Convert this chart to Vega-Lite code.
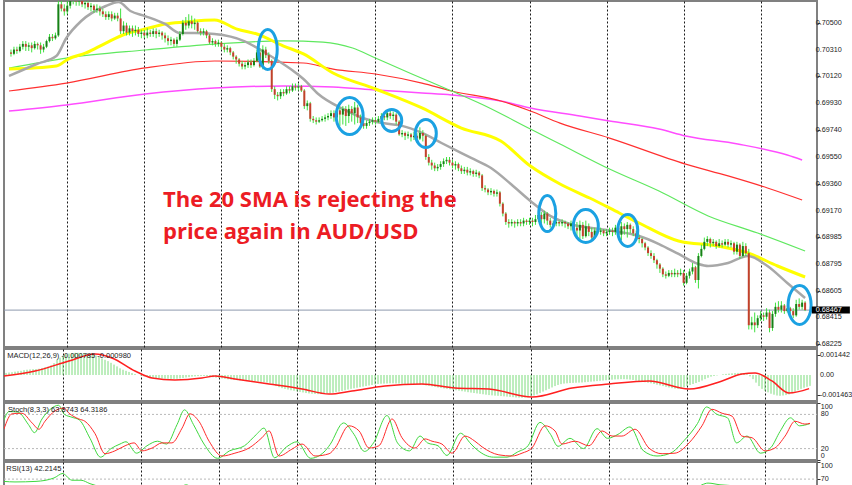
{
"$schema": "https://vega.github.io/schema/vega-lite/v6.json",
"background": "white",
"padding": {"left": 2, "top": 0, "right": 0, "bottom": 0},
"spacing": 2,
"bounds": "flush",
"config": {
  "view": {"stroke": "#808080", "strokeWidth": 2},
  "axis": {"tickColor": "#333"}
},
"datasets": {
"candles": [
{"t":0,"o":0.7029,"h":0.7031,"l":0.7026,"c":0.7028},
{"t":1,"o":0.7028,"h":0.7033,"l":0.7027,"c":0.7031},
{"t":2,"o":0.7031,"h":0.7033,"l":0.7028,"c":0.7030},
{"t":3,"o":0.7030,"h":0.7035,"l":0.7029,"c":0.7033},
{"t":4,"o":0.7033,"h":0.7037,"l":0.7031,"c":0.7035},
{"t":5,"o":0.7035,"h":0.7037,"l":0.7030,"c":0.7033},
{"t":6,"o":0.7033,"h":0.7036,"l":0.7030,"c":0.7034},
{"t":7,"o":0.7034,"h":0.7036,"l":0.7029,"c":0.7032},
{"t":8,"o":0.7032,"h":0.7037,"l":0.7031,"c":0.7035},
{"t":9,"o":0.7035,"h":0.7036,"l":0.7031,"c":0.7034},
{"t":10,"o":0.7034,"h":0.7036,"l":0.7028,"c":0.7031},
{"t":11,"o":0.7031,"h":0.7035,"l":0.7029,"c":0.7033},
{"t":12,"o":0.7033,"h":0.7038,"l":0.7032,"c":0.7037},
{"t":13,"o":0.7037,"h":0.7042,"l":0.7036,"c":0.7040},
{"t":14,"o":0.7040,"h":0.7042,"l":0.7037,"c":0.7039},
{"t":15,"o":0.7039,"h":0.7043,"l":0.7038,"c":0.7041},
{"t":16,"o":0.7041,"h":0.7068,"l":0.7040,"c":0.7063},
{"t":17,"o":0.7063,"h":0.7070,"l":0.7058,"c":0.7060},
{"t":18,"o":0.7060,"h":0.7063,"l":0.7055,"c":0.7058},
{"t":19,"o":0.7058,"h":0.7066,"l":0.7056,"c":0.7062},
{"t":20,"o":0.7062,"h":0.7070,"l":0.7060,"c":0.7066},
{"t":21,"o":0.7066,"h":0.7072,"l":0.7063,"c":0.7068},
{"t":22,"o":0.7068,"h":0.7071,"l":0.7062,"c":0.7065},
{"t":23,"o":0.7065,"h":0.7069,"l":0.7062,"c":0.7066},
{"t":24,"o":0.7066,"h":0.7068,"l":0.7061,"c":0.7063},
{"t":25,"o":0.7063,"h":0.7067,"l":0.7060,"c":0.7064},
{"t":26,"o":0.7064,"h":0.7066,"l":0.7059,"c":0.7061},
{"t":27,"o":0.7061,"h":0.7064,"l":0.7058,"c":0.7062},
{"t":28,"o":0.7062,"h":0.7063,"l":0.7057,"c":0.7059},
{"t":29,"o":0.7059,"h":0.7063,"l":0.7057,"c":0.7060},
{"t":30,"o":0.7060,"h":0.7062,"l":0.7055,"c":0.7058},
{"t":31,"o":0.7058,"h":0.7060,"l":0.7054,"c":0.7056},
{"t":32,"o":0.7056,"h":0.7058,"l":0.7052,"c":0.7054},
{"t":33,"o":0.7054,"h":0.7058,"l":0.7052,"c":0.7056},
{"t":34,"o":0.7056,"h":0.7058,"l":0.7051,"c":0.7053},
{"t":35,"o":0.7053,"h":0.7057,"l":0.7052,"c":0.7055},
{"t":36,"o":0.7055,"h":0.7057,"l":0.7051,"c":0.7053},
{"t":37,"o":0.7053,"h":0.7060,"l":0.7042,"c":0.7044},
{"t":38,"o":0.7044,"h":0.7051,"l":0.7042,"c":0.7048},
{"t":39,"o":0.7048,"h":0.7050,"l":0.7041,"c":0.7043},
{"t":40,"o":0.7043,"h":0.7048,"l":0.7041,"c":0.7046},
{"t":41,"o":0.7046,"h":0.7048,"l":0.7040,"c":0.7044},
{"t":42,"o":0.7044,"h":0.7048,"l":0.7041,"c":0.7045},
{"t":43,"o":0.7045,"h":0.7047,"l":0.7040,"c":0.7042},
{"t":44,"o":0.7042,"h":0.7045,"l":0.7039,"c":0.7043},
{"t":45,"o":0.7043,"h":0.7045,"l":0.7039,"c":0.7041},
{"t":46,"o":0.7041,"h":0.7046,"l":0.7039,"c":0.7043},
{"t":47,"o":0.7043,"h":0.7045,"l":0.7040,"c":0.7042},
{"t":48,"o":0.7042,"h":0.7046,"l":0.7040,"c":0.7044},
{"t":49,"o":0.7044,"h":0.7046,"l":0.7039,"c":0.7042},
{"t":50,"o":0.7042,"h":0.7045,"l":0.7040,"c":0.7043},
{"t":51,"o":0.7043,"h":0.7044,"l":0.7038,"c":0.7041},
{"t":52,"o":0.7041,"h":0.7043,"l":0.7036,"c":0.7039},
{"t":53,"o":0.7039,"h":0.7041,"l":0.7034,"c":0.7037},
{"t":54,"o":0.7037,"h":0.7040,"l":0.7034,"c":0.7038},
{"t":55,"o":0.7038,"h":0.7039,"l":0.7033,"c":0.7035},
{"t":56,"o":0.7035,"h":0.7040,"l":0.7033,"c":0.7038},
{"t":57,"o":0.7038,"h":0.7044,"l":0.7037,"c":0.7042},
{"t":58,"o":0.7042,"h":0.7052,"l":0.7041,"c":0.7050},
{"t":59,"o":0.7050,"h":0.7054,"l":0.7045,"c":0.7048},
{"t":60,"o":0.7048,"h":0.7056,"l":0.7046,"c":0.7051},
{"t":61,"o":0.7051,"h":0.7055,"l":0.7046,"c":0.7049},
{"t":62,"o":0.7049,"h":0.7053,"l":0.7045,"c":0.7050},
{"t":63,"o":0.7050,"h":0.7051,"l":0.7043,"c":0.7044},
{"t":64,"o":0.7044,"h":0.7046,"l":0.7041,"c":0.7043},
{"t":65,"o":0.7043,"h":0.7046,"l":0.7041,"c":0.7044},
{"t":66,"o":0.7044,"h":0.7045,"l":0.7039,"c":0.7041},
{"t":67,"o":0.7041,"h":0.7042,"l":0.7035,"c":0.7036},
{"t":68,"o":0.7036,"h":0.7039,"l":0.7034,"c":0.7037},
{"t":69,"o":0.7037,"h":0.7038,"l":0.7033,"c":0.7035},
{"t":70,"o":0.7035,"h":0.7038,"l":0.7033,"c":0.7036},
{"t":71,"o":0.7036,"h":0.7037,"l":0.7031,"c":0.7033},
{"t":72,"o":0.7033,"h":0.7035,"l":0.7029,"c":0.7031},
{"t":73,"o":0.7031,"h":0.7034,"l":0.7029,"c":0.7032},
{"t":74,"o":0.7032,"h":0.7033,"l":0.7027,"c":0.7029},
{"t":75,"o":0.7029,"h":0.7030,"l":0.7024,"c":0.7026},
{"t":76,"o":0.7026,"h":0.7027,"l":0.7021,"c":0.7024},
{"t":77,"o":0.7024,"h":0.7025,"l":0.7019,"c":0.7021},
{"t":78,"o":0.7021,"h":0.7023,"l":0.7017,"c":0.7019},
{"t":79,"o":0.7019,"h":0.7022,"l":0.7017,"c":0.7020},
{"t":80,"o":0.7020,"h":0.7024,"l":0.7018,"c":0.7022},
{"t":81,"o":0.7022,"h":0.7024,"l":0.7018,"c":0.7020},
{"t":82,"o":0.7020,"h":0.7025,"l":0.7019,"c":0.7023},
{"t":83,"o":0.7023,"h":0.7031,"l":0.7022,"c":0.7029},
{"t":84,"o":0.7029,"h":0.7032,"l":0.7018,"c":0.7019},
{"t":85,"o":0.7019,"h":0.7034,"l":0.7017,"c":0.7031},
{"t":86,"o":0.7031,"h":0.7033,"l":0.7025,"c":0.7027},
{"t":87,"o":0.7027,"h":0.7029,"l":0.7021,"c":0.7023},
{"t":88,"o":0.7023,"h":0.7024,"l":0.7001,"c":0.7003},
{"t":89,"o":0.7003,"h":0.7005,"l":0.6996,"c":0.6999},
{"t":90,"o":0.6999,"h":0.7001,"l":0.6995,"c":0.6998},
{"t":91,"o":0.6998,"h":0.7003,"l":0.6996,"c":0.7001},
{"t":92,"o":0.7001,"h":0.7003,"l":0.6998,"c":0.7000},
{"t":93,"o":0.7000,"h":0.7005,"l":0.6999,"c":0.7003},
{"t":94,"o":0.7003,"h":0.7005,"l":0.7000,"c":0.7002},
{"t":95,"o":0.7002,"h":0.7007,"l":0.7001,"c":0.7005},
{"t":96,"o":0.7005,"h":0.7007,"l":0.7002,"c":0.7004},
{"t":97,"o":0.7004,"h":0.7007,"l":0.7002,"c":0.7005},
{"t":98,"o":0.7005,"h":0.7006,"l":0.7001,"c":0.7002},
{"t":99,"o":0.7002,"h":0.7003,"l":0.6989,"c":0.6991},
{"t":100,"o":0.6991,"h":0.6995,"l":0.6988,"c":0.6993},
{"t":101,"o":0.6993,"h":0.6994,"l":0.6980,"c":0.6982},
{"t":102,"o":0.6982,"h":0.6984,"l":0.6979,"c":0.6981},
{"t":103,"o":0.6981,"h":0.6983,"l":0.6978,"c":0.6980},
{"t":104,"o":0.6980,"h":0.6983,"l":0.6979,"c":0.6981},
{"t":105,"o":0.6981,"h":0.6984,"l":0.6980,"c":0.6982},
{"t":106,"o":0.6982,"h":0.6985,"l":0.6980,"c":0.6983},
{"t":107,"o":0.6983,"h":0.6986,"l":0.6981,"c":0.6984},
{"t":108,"o":0.6984,"h":0.6988,"l":0.6982,"c":0.6986},
{"t":109,"o":0.6986,"h":0.6988,"l":0.6980,"c":0.6983},
{"t":110,"o":0.6983,"h":0.6990,"l":0.6980,"c":0.6988},
{"t":111,"o":0.6988,"h":0.6990,"l":0.6977,"c":0.6985},
{"t":112,"o":0.6985,"h":0.6991,"l":0.6978,"c":0.6989},
{"t":113,"o":0.6989,"h":0.6991,"l":0.6977,"c":0.6984},
{"t":114,"o":0.6984,"h":0.6992,"l":0.6979,"c":0.6989},
{"t":115,"o":0.6989,"h":0.6991,"l":0.6980,"c":0.6986},
{"t":116,"o":0.6986,"h":0.6994,"l":0.6978,"c":0.6990},
{"t":117,"o":0.6990,"h":0.6992,"l":0.6979,"c":0.6983},
{"t":118,"o":0.6983,"h":0.6985,"l":0.6976,"c":0.6979},
{"t":119,"o":0.6979,"h":0.6981,"l":0.6975,"c":0.6977},
{"t":120,"o":0.6977,"h":0.6981,"l":0.6975,"c":0.6979},
{"t":121,"o":0.6979,"h":0.6982,"l":0.6977,"c":0.6980},
{"t":122,"o":0.6980,"h":0.6983,"l":0.6978,"c":0.6981},
{"t":123,"o":0.6981,"h":0.6983,"l":0.6978,"c":0.6980},
{"t":124,"o":0.6980,"h":0.6984,"l":0.6979,"c":0.6982},
{"t":125,"o":0.6982,"h":0.6986,"l":0.6980,"c":0.6984},
{"t":126,"o":0.6984,"h":0.6986,"l":0.6981,"c":0.6983},
{"t":127,"o":0.6983,"h":0.6988,"l":0.6981,"c":0.6986},
{"t":128,"o":0.6986,"h":0.6988,"l":0.6982,"c":0.6984},
{"t":129,"o":0.6984,"h":0.6987,"l":0.6981,"c":0.6985},
{"t":130,"o":0.6985,"h":0.6986,"l":0.6978,"c":0.6980},
{"t":131,"o":0.6980,"h":0.6981,"l":0.6970,"c":0.6971},
{"t":132,"o":0.6971,"h":0.6974,"l":0.6969,"c":0.6972},
{"t":133,"o":0.6972,"h":0.6973,"l":0.6967,"c":0.6970},
{"t":134,"o":0.6970,"h":0.6973,"l":0.6968,"c":0.6971},
{"t":135,"o":0.6971,"h":0.6972,"l":0.6966,"c":0.6969},
{"t":136,"o":0.6969,"h":0.6973,"l":0.6967,"c":0.6970},
{"t":137,"o":0.6970,"h":0.6972,"l":0.6965,"c":0.6968},
{"t":138,"o":0.6968,"h":0.6976,"l":0.6967,"c":0.6972},
{"t":139,"o":0.6972,"h":0.6974,"l":0.6966,"c":0.6970},
{"t":140,"o":0.6970,"h":0.6971,"l":0.6953,"c":0.6955},
{"t":141,"o":0.6955,"h":0.6957,"l":0.6949,"c":0.6951},
{"t":142,"o":0.6951,"h":0.6953,"l":0.6946,"c":0.6949},
{"t":143,"o":0.6949,"h":0.6951,"l":0.6945,"c":0.6947},
{"t":144,"o":0.6947,"h":0.6950,"l":0.6945,"c":0.6948},
{"t":145,"o":0.6948,"h":0.6952,"l":0.6946,"c":0.6950},
{"t":146,"o":0.6950,"h":0.6954,"l":0.6948,"c":0.6952},
{"t":147,"o":0.6952,"h":0.6955,"l":0.6950,"c":0.6953},
{"t":148,"o":0.6953,"h":0.6955,"l":0.6949,"c":0.6951},
{"t":149,"o":0.6951,"h":0.6953,"l":0.6947,"c":0.6949},
{"t":150,"o":0.6949,"h":0.6952,"l":0.6946,"c":0.6950},
{"t":151,"o":0.6950,"h":0.6951,"l":0.6945,"c":0.6947},
{"t":152,"o":0.6947,"h":0.6949,"l":0.6943,"c":0.6945},
{"t":153,"o":0.6945,"h":0.6948,"l":0.6943,"c":0.6946},
{"t":154,"o":0.6946,"h":0.6948,"l":0.6942,"c":0.6944},
{"t":155,"o":0.6944,"h":0.6947,"l":0.6942,"c":0.6945},
{"t":156,"o":0.6945,"h":0.6946,"l":0.6941,"c":0.6943},
{"t":157,"o":0.6943,"h":0.6946,"l":0.6941,"c":0.6944},
{"t":158,"o":0.6944,"h":0.6945,"l":0.6940,"c":0.6942},
{"t":159,"o":0.6942,"h":0.6943,"l":0.6931,"c":0.6933},
{"t":160,"o":0.6933,"h":0.6935,"l":0.6930,"c":0.6932},
{"t":161,"o":0.6932,"h":0.6933,"l":0.6928,"c":0.6930},
{"t":162,"o":0.6930,"h":0.6933,"l":0.6928,"c":0.6931},
{"t":163,"o":0.6931,"h":0.6932,"l":0.6927,"c":0.6929},
{"t":164,"o":0.6929,"h":0.6932,"l":0.6927,"c":0.6930},
{"t":165,"o":0.6930,"h":0.6931,"l":0.6920,"c":0.6922},
{"t":166,"o":0.6922,"h":0.6923,"l":0.6913,"c":0.6915},
{"t":167,"o":0.6915,"h":0.6916,"l":0.6907,"c":0.6909},
{"t":168,"o":0.6909,"h":0.6911,"l":0.6905,"c":0.6908},
{"t":169,"o":0.6908,"h":0.6911,"l":0.6906,"c":0.6909},
{"t":170,"o":0.6909,"h":0.6910,"l":0.6905,"c":0.6908},
{"t":171,"o":0.6908,"h":0.6911,"l":0.6906,"c":0.6909},
{"t":172,"o":0.6909,"h":0.6911,"l":0.6906,"c":0.6908},
{"t":173,"o":0.6908,"h":0.6912,"l":0.6906,"c":0.6910},
{"t":174,"o":0.6910,"h":0.6911,"l":0.6907,"c":0.6909},
{"t":175,"o":0.6909,"h":0.6912,"l":0.6907,"c":0.6910},
{"t":176,"o":0.6910,"h":0.6912,"l":0.6906,"c":0.6909},
{"t":177,"o":0.6909,"h":0.6914,"l":0.6907,"c":0.6911},
{"t":178,"o":0.6911,"h":0.6917,"l":0.6909,"c":0.6914},
{"t":179,"o":0.6914,"h":0.6916,"l":0.6908,"c":0.6911},
{"t":180,"o":0.6911,"h":0.6917,"l":0.6908,"c":0.6915},
{"t":181,"o":0.6915,"h":0.6916,"l":0.6907,"c":0.6910},
{"t":182,"o":0.6910,"h":0.6912,"l":0.6905,"c":0.6907},
{"t":183,"o":0.6907,"h":0.6910,"l":0.6905,"c":0.6908},
{"t":184,"o":0.6908,"h":0.6911,"l":0.6906,"c":0.6909},
{"t":185,"o":0.6909,"h":0.6910,"l":0.6906,"c":0.6908},
{"t":186,"o":0.6908,"h":0.6911,"l":0.6906,"c":0.6909},
{"t":187,"o":0.6909,"h":0.6910,"l":0.6905,"c":0.6908},
{"t":188,"o":0.6908,"h":0.6909,"l":0.6904,"c":0.6906},
{"t":189,"o":0.6906,"h":0.6910,"l":0.6903,"c":0.6908},
{"t":190,"o":0.6908,"h":0.6910,"l":0.6902,"c":0.6905},
{"t":191,"o":0.6905,"h":0.6909,"l":0.6898,"c":0.6903},
{"t":192,"o":0.6903,"h":0.6910,"l":0.6897,"c":0.6907},
{"t":193,"o":0.6907,"h":0.6909,"l":0.6897,"c":0.6899},
{"t":194,"o":0.6899,"h":0.6910,"l":0.6898,"c":0.6906},
{"t":195,"o":0.6906,"h":0.6908,"l":0.6899,"c":0.6902},
{"t":196,"o":0.6902,"h":0.6905,"l":0.6897,"c":0.6898},
{"t":197,"o":0.6898,"h":0.6905,"l":0.6897,"c":0.6903},
{"t":198,"o":0.6903,"h":0.6905,"l":0.6900,"c":0.6902},
{"t":199,"o":0.6902,"h":0.6905,"l":0.6900,"c":0.6903},
{"t":200,"o":0.6903,"h":0.6904,"l":0.6899,"c":0.6901},
{"t":201,"o":0.6901,"h":0.6904,"l":0.6899,"c":0.6902},
{"t":202,"o":0.6902,"h":0.6905,"l":0.6900,"c":0.6903},
{"t":203,"o":0.6903,"h":0.6905,"l":0.6899,"c":0.6902},
{"t":204,"o":0.6902,"h":0.6907,"l":0.6900,"c":0.6905},
{"t":205,"o":0.6905,"h":0.6906,"l":0.6898,"c":0.6900},
{"t":206,"o":0.6900,"h":0.6909,"l":0.6896,"c":0.6906},
{"t":207,"o":0.6906,"h":0.6908,"l":0.6900,"c":0.6904},
{"t":208,"o":0.6904,"h":0.6909,"l":0.6898,"c":0.6907},
{"t":209,"o":0.6907,"h":0.6908,"l":0.6901,"c":0.6904},
{"t":210,"o":0.6904,"h":0.6906,"l":0.6899,"c":0.6901},
{"t":211,"o":0.6901,"h":0.6903,"l":0.6896,"c":0.6898},
{"t":212,"o":0.6898,"h":0.6900,"l":0.6894,"c":0.6897},
{"t":213,"o":0.6897,"h":0.6898,"l":0.6891,"c":0.6894},
{"t":214,"o":0.6894,"h":0.6895,"l":0.6889,"c":0.6891},
{"t":215,"o":0.6891,"h":0.6892,"l":0.6885,"c":0.6887},
{"t":216,"o":0.6887,"h":0.6889,"l":0.6883,"c":0.6885},
{"t":217,"o":0.6885,"h":0.6887,"l":0.6880,"c":0.6882},
{"t":218,"o":0.6882,"h":0.6883,"l":0.6876,"c":0.6879},
{"t":219,"o":0.6879,"h":0.6880,"l":0.6873,"c":0.6876},
{"t":220,"o":0.6876,"h":0.6877,"l":0.6870,"c":0.6872},
{"t":221,"o":0.6872,"h":0.6874,"l":0.6869,"c":0.6871},
{"t":222,"o":0.6871,"h":0.6875,"l":0.6870,"c":0.6873},
{"t":223,"o":0.6873,"h":0.6875,"l":0.6870,"c":0.6872},
{"t":224,"o":0.6872,"h":0.6876,"l":0.6870,"c":0.6873},
{"t":225,"o":0.6873,"h":0.6875,"l":0.6870,"c":0.6872},
{"t":226,"o":0.6872,"h":0.6876,"l":0.6871,"c":0.6873},
{"t":227,"o":0.6873,"h":0.6875,"l":0.6864,"c":0.6866},
{"t":228,"o":0.6866,"h":0.6873,"l":0.6865,"c":0.6871},
{"t":229,"o":0.6871,"h":0.6876,"l":0.6869,"c":0.6874},
{"t":230,"o":0.6874,"h":0.6880,"l":0.6872,"c":0.6877},
{"t":231,"o":0.6877,"h":0.6878,"l":0.6866,"c":0.6868},
{"t":232,"o":0.6868,"h":0.6887,"l":0.6862,"c":0.6885},
{"t":233,"o":0.6885,"h":0.6893,"l":0.6884,"c":0.6890},
{"t":234,"o":0.6890,"h":0.6898,"l":0.6889,"c":0.6895},
{"t":235,"o":0.6895,"h":0.6899,"l":0.6892,"c":0.6897},
{"t":236,"o":0.6897,"h":0.6898,"l":0.6891,"c":0.6894},
{"t":237,"o":0.6894,"h":0.6897,"l":0.6892,"c":0.6895},
{"t":238,"o":0.6895,"h":0.6896,"l":0.6890,"c":0.6892},
{"t":239,"o":0.6892,"h":0.6897,"l":0.6891,"c":0.6894},
{"t":240,"o":0.6894,"h":0.6896,"l":0.6891,"c":0.6893},
{"t":241,"o":0.6893,"h":0.6897,"l":0.6892,"c":0.6895},
{"t":242,"o":0.6895,"h":0.6897,"l":0.6891,"c":0.6893},
{"t":243,"o":0.6893,"h":0.6896,"l":0.6891,"c":0.6894},
{"t":244,"o":0.6894,"h":0.6895,"l":0.6886,"c":0.6888},
{"t":245,"o":0.6888,"h":0.6895,"l":0.6886,"c":0.6893},
{"t":246,"o":0.6893,"h":0.6894,"l":0.6883,"c":0.6885},
{"t":247,"o":0.6885,"h":0.6895,"l":0.6884,"c":0.6892},
{"t":248,"o":0.6892,"h":0.6894,"l":0.6885,"c":0.6887},
{"t":249,"o":0.6887,"h":0.6890,"l":0.6833,"c":0.6836},
{"t":250,"o":0.6836,"h":0.6842,"l":0.6833,"c":0.6838},
{"t":251,"o":0.6838,"h":0.6845,"l":0.6831,"c":0.6836},
{"t":252,"o":0.6836,"h":0.6843,"l":0.6834,"c":0.6841},
{"t":253,"o":0.6841,"h":0.6846,"l":0.6839,"c":0.6843},
{"t":254,"o":0.6843,"h":0.6845,"l":0.6839,"c":0.6842},
{"t":255,"o":0.6842,"h":0.6848,"l":0.6840,"c":0.6845},
{"t":256,"o":0.6845,"h":0.6847,"l":0.6831,"c":0.6834},
{"t":257,"o":0.6834,"h":0.6846,"l":0.6832,"c":0.6844},
{"t":258,"o":0.6844,"h":0.6852,"l":0.6842,"c":0.6849},
{"t":259,"o":0.6849,"h":0.6853,"l":0.6845,"c":0.6847},
{"t":260,"o":0.6847,"h":0.6853,"l":0.6845,"c":0.6850},
{"t":261,"o":0.6850,"h":0.6851,"l":0.6844,"c":0.6846},
{"t":262,"o":0.6846,"h":0.6850,"l":0.6845,"c":0.6848},
{"t":263,"o":0.6848,"h":0.6849,"l":0.6844,"c":0.6846},
{"t":264,"o":0.6846,"h":0.6848,"l":0.6841,"c":0.6843},
{"t":265,"o":0.6843,"h":0.6854,"l":0.6842,"c":0.6851},
{"t":266,"o":0.6851,"h":0.6855,"l":0.6847,"c":0.6849},
{"t":267,"o":0.6849,"h":0.6854,"l":0.6847,"c":0.6852},
{"t":268,"o":0.6852,"h":0.6853,"l":0.6846,"c":0.68467}
],
"sma": [
{"s":"G","t":-0.67,"p":0.70123},{"s":"G","t":8.7,"p":0.70208},{"s":"G","t":15.3,"p":0.70264},{"s":"G","t":18.7,"p":0.70392},{"s":"G","t":23.7,"p":0.70512},{"s":"G","t":32,"p":0.70618},{"s":"G","t":36.3,"p":0.70646},{"s":"G","t":40.3,"p":0.70583},{"s":"G","t":45.3,"p":0.70547},{"s":"G","t":52,"p":0.70491},{"s":"G","t":57,"p":0.70427},{"s":"G","t":62,"p":0.70427},{"s":"G","t":68.7,"p":0.7042},{"s":"G","t":78.7,"p":0.7037},{"s":"G","t":83.7,"p":0.70314},{"s":"G","t":88.7,"p":0.7025},{"s":"G","t":95.3,"p":0.70158},{"s":"G","t":98.7,"p":0.70102},{"s":"G","t":103.7,"p":0.69996},{"s":"G","t":112,"p":0.6989},{"s":"G","t":118.7,"p":0.69826},{"s":"G","t":125.3,"p":0.6979},{"s":"G","t":132,"p":0.6977},{"s":"G","t":138.7,"p":0.6972},{"s":"G","t":145.3,"p":0.69649},{"s":"G","t":155.3,"p":0.69543},{"s":"G","t":162,"p":0.69472},{"s":"G","t":168.7,"p":0.69359},{"s":"G","t":175.3,"p":0.69239},{"s":"G","t":182,"p":0.69133},{"s":"G","t":188.7,"p":0.69076},{"s":"G","t":198.7,"p":0.6904},{"s":"G","t":212,"p":0.68991},{"s":"G","t":218.7,"p":0.68934},{"s":"G","t":225.3,"p":0.68864},{"s":"G","t":232,"p":0.68793},{"s":"G","t":235.3,"p":0.68779},{"s":"G","t":242,"p":0.688},{"s":"G","t":248.7,"p":0.6885},{"s":"G","t":255.3,"p":0.68779},{"s":"G","t":262,"p":0.68659},{"s":"G","t":268,"p":0.68553},
{"s":"Y","t":-0.67,"p":0.70172},{"s":"Y","t":15.3,"p":0.70194},{"s":"Y","t":19.3,"p":0.70243},{"s":"Y","t":25.3,"p":0.70286},{"s":"Y","t":32,"p":0.70356},{"s":"Y","t":38.7,"p":0.7042},{"s":"Y","t":45.3,"p":0.70455},{"s":"Y","t":52,"p":0.70491},{"s":"Y","t":58.7,"p":0.70505},{"s":"Y","t":68.7,"p":0.70519},{"s":"Y","t":76.3,"p":0.70455},{"s":"Y","t":83,"p":0.7042},{"s":"Y","t":92,"p":0.70335},{"s":"Y","t":98.7,"p":0.70279},{"s":"Y","t":108.7,"p":0.70144},{"s":"Y","t":123,"p":0.70031},{"s":"Y","t":138.7,"p":0.69897},{"s":"Y","t":152,"p":0.69755},{"s":"Y","t":165.3,"p":0.69663},{"s":"Y","t":175.3,"p":0.69486},{"s":"Y","t":185.3,"p":0.69359},{"s":"Y","t":195.3,"p":0.6926},{"s":"Y","t":205.3,"p":0.69154},{"s":"Y","t":212,"p":0.69083},{"s":"Y","t":225.3,"p":0.68956},{"s":"Y","t":238.7,"p":0.6892},{"s":"Y","t":248.7,"p":0.68871},{"s":"Y","t":258.7,"p":0.68779},{"s":"Y","t":268,"p":0.68701},
{"s":"N","t":-0.67,"p":0.70179},{"s":"N","t":18.7,"p":0.7025},{"s":"N","t":45.3,"p":0.70307},{"s":"N","t":68.7,"p":0.70349},{"s":"N","t":92,"p":0.70371},{"s":"N","t":105.3,"p":0.70363},{"s":"N","t":115.3,"p":0.70321},{"s":"N","t":123,"p":0.7025},{"s":"N","t":135.3,"p":0.70137},{"s":"N","t":148.7,"p":0.70017},{"s":"N","t":158.7,"p":0.69925},{"s":"N","t":175.3,"p":0.69748},{"s":"N","t":185.3,"p":0.69642},{"s":"N","t":202,"p":0.69465},{"s":"N","t":218.7,"p":0.69309},{"s":"N","t":235.3,"p":0.69133},{"s":"N","t":252,"p":0.69012},{"s":"N","t":268,"p":0.68885},
{"s":"R","t":-0.67,"p":0.70017},{"s":"R","t":18.7,"p":0.70073},{"s":"R","t":45.3,"p":0.7018},{"s":"R","t":68.7,"p":0.70229},{"s":"R","t":98.7,"p":0.70215},{"s":"R","t":108.7,"p":0.70172},{"s":"R","t":123,"p":0.70137},{"s":"R","t":138.7,"p":0.70073},{"s":"R","t":148.7,"p":0.70017},{"s":"R","t":165.3,"p":0.69946},{"s":"R","t":175.3,"p":0.69875},{"s":"R","t":185.3,"p":0.6979},{"s":"R","t":202,"p":0.69684},{"s":"R","t":227.7,"p":0.695},{"s":"R","t":242,"p":0.69416},{"s":"R","t":255.3,"p":0.69331},{"s":"R","t":267,"p":0.69246},
{"s":"M","t":-0.67,"p":0.69875},{"s":"M","t":18.7,"p":0.69918},{"s":"M","t":45.3,"p":0.69996},{"s":"M","t":68.7,"p":0.70038},{"s":"M","t":92,"p":0.70052},{"s":"M","t":108.7,"p":0.70045},{"s":"M","t":123,"p":0.70024},{"s":"M","t":138.7,"p":0.70003},{"s":"M","t":148.7,"p":0.69989},{"s":"M","t":165.3,"p":0.69946},{"s":"M","t":175.3,"p":0.69896},{"s":"M","t":192,"p":0.6984},{"s":"M","t":202,"p":0.69805},{"s":"M","t":218.7,"p":0.69748},{"s":"M","t":227.7,"p":0.69699},{"s":"M","t":245.3,"p":0.69642},{"s":"M","t":262,"p":0.69564},{"s":"M","t":267,"p":0.69529}
],
"circles": [
{"id":"a","t":86.65,"p":0.703105},
{"id":"b","t":114.3,"p":0.698395},
{"id":"c","t":128.5,"p":0.698085},
{"id":"d","t":140,"p":0.697165},
{"id":"e","t":181,"p":0.6915},
{"id":"f","t":194,"p":0.69062},
{"id":"g","t":208.15,"p":0.6903},
{"id":"h","t":266.15,"p":0.68503}
],
"note": [
{"t":51.3,"p":0.69198,"txt":"The 20 SMA is rejecting the"},
{"t":51.3,"p":0.68968,"txt":"price again in AUD/USD"}
],
"last": [{"p":0.68467}],
"plabels": [
{"v":0.705,"s":"0.70500"},{"v":0.7031,"s":"0.70310"},{"v":0.7012,"s":"0.70120"},{"v":0.6993,"s":"0.69930"},{"v":0.6974,"s":"0.69740"},{"v":0.6955,"s":"0.69550"},{"v":0.6936,"s":"0.69360"},{"v":0.6917,"s":"0.69170"},{"v":0.68985,"s":"0.68985"},{"v":0.68795,"s":"0.68795"},{"v":0.68605,"s":"0.68605"},{"v":0.68415,"s":"0.68415"},{"v":0.68225,"s":"0.68225"}
],
"mlabels": [{"v":0.001442,"s":"0.001442"},{"v":0,"s":"0.00"},{"v":-0.001463,"s":"-0.001463"}],
"macd": [
{"t":0,"m":0.00015},{"t":1,"m":0.00018},{"t":2,"m":0.0002},{"t":3,"m":0.00024},{"t":4,"m":0.00027},{"t":5,"m":0.0003},
{"t":6,"m":0.00035},{"t":7,"m":0.00038},{"t":8,"m":0.0004},{"t":9,"m":0.00042},{"t":10,"m":0.00043},{"t":11,"m":0.00045},
{"t":12,"m":0.0005},{"t":13,"m":0.00055},{"t":14,"m":0.0006},{"t":15,"m":0.0007},{"t":16,"m":0.00085},
{"t":17,"m":0.0011},{"t":18,"m":0.00125},{"t":19,"m":0.0014},{"t":20,"m":0.0015},
{"t":21,"m":0.00155},{"t":22,"m":0.00158},{"t":23,"m":0.0016},{"t":24,"m":0.0016},{"t":25,"m":0.00158},{"t":26,"m":0.00157},{"t":27,"m":0.00155},{"t":28,"m":0.00152},{"t":29,"m":0.00148},
{"t":30,"m":0.0014},{"t":31,"m":0.00132},
{"t":32,"m":0.0012},{"t":33,"m":0.0011},{"t":34,"m":0.001},{"t":35,"m":0.00088},{"t":36,"m":0.00075},{"t":37,"m":0.00062},{"t":38,"m":0.00048},
{"t":39,"m":0.00038},{"t":40,"m":0.0003},{"t":41,"m":0.00022},{"t":42,"m":0.00014},{"t":43,"m":0.00007},{"t":44,"m":0},
{"t":45,"m":-0.00005},{"t":46,"m":-0.0001},{"t":47,"m":-0.00014},{"t":48,"m":-0.00018},{"t":49,"m":-0.0002},{"t":50,"m":-0.00022},{"t":51,"m":-0.00024},{"t":52,"m":-0.00025},{"t":53,"m":-0.00026},{"t":54,"m":-0.00027},{"t":55,"m":-0.00028},{"t":56,"m":-0.00028},{"t":57,"m":-0.00027},{"t":58,"m":-0.00025},{"t":59,"m":-0.00022},{"t":60,"m":-0.00018},{"t":61,"m":-0.00015},{"t":62,"m":-0.00012},{"t":63,"m":-0.0001},{"t":64,"m":-0.00008},
{"t":65,"m":-0.00007},{"t":66,"m":-0.00008},{"t":67,"m":-0.0001},{"t":68,"m":-0.00013},{"t":69,"m":-0.00016},{"t":70,"m":-0.00019},{"t":71,"m":-0.00022},{"t":72,"m":-0.00025},{"t":73,"m":-0.00028},{"t":74,"m":-0.00031},{"t":75,"m":-0.00033},{"t":76,"m":-0.00035},{"t":77,"m":-0.00037},{"t":78,"m":-0.00038},{"t":79,"m":-0.00039},{"t":80,"m":-0.0004},{"t":81,"m":-0.00042},{"t":82,"m":-0.00044},{"t":83,"m":-0.00046},{"t":84,"m":-0.00048},{"t":85,"m":-0.0005},{"t":86,"m":-0.00052},{"t":87,"m":-0.00055},{"t":88,"m":-0.0006},
{"t":89,"m":-0.0007},{"t":90,"m":-0.0008},{"t":91,"m":-0.00088},{"t":92,"m":-0.00095},{"t":93,"m":-0.001},{"t":94,"m":-0.00105},{"t":95,"m":-0.0011},{"t":96,"m":-0.00114},{"t":97,"m":-0.00118},{"t":98,"m":-0.00122},{"t":99,"m":-0.00126},{"t":100,"m":-0.0013},{"t":101,"m":-0.00133},{"t":102,"m":-0.00135},{"t":103,"m":-0.00137},{"t":104,"m":-0.00138},{"t":105,"m":-0.00138},{"t":106,"m":-0.00137},{"t":107,"m":-0.00135},{"t":108,"m":-0.00132},
{"t":109,"m":-0.00128},{"t":110,"m":-0.00124},{"t":111,"m":-0.0012},{"t":112,"m":-0.00115},{"t":113,"m":-0.0011},{"t":114,"m":-0.00105},{"t":115,"m":-0.001},{"t":116,"m":-0.00096},{"t":117,"m":-0.00092},{"t":118,"m":-0.00088},{"t":119,"m":-0.00084},{"t":120,"m":-0.0008},{"t":121,"m":-0.00076},{"t":122,"m":-0.00072},{"t":123,"m":-0.00068},{"t":124,"m":-0.00065},
{"t":125,"m":-0.00063},{"t":126,"m":-0.00062},{"t":127,"m":-0.00061},{"t":128,"m":-0.0006},{"t":129,"m":-0.0006},{"t":130,"m":-0.00061},{"t":131,"m":-0.00062},{"t":132,"m":-0.00063},{"t":133,"m":-0.00064},{"t":134,"m":-0.00065},{"t":135,"m":-0.00066},{"t":136,"m":-0.00067},{"t":137,"m":-0.00068},{"t":138,"m":-0.0007},{"t":139,"m":-0.00072},{"t":140,"m":-0.00075},{"t":141,"m":-0.00078},
{"t":142,"m":-0.00082},{"t":143,"m":-0.00086},{"t":144,"m":-0.0009},{"t":145,"m":-0.00094},{"t":146,"m":-0.00097},{"t":147,"m":-0.001},{"t":148,"m":-0.00103},
{"t":149,"m":-0.00106},{"t":150,"m":-0.0011},{"t":151,"m":-0.00113},{"t":152,"m":-0.00117},{"t":153,"m":-0.0012},{"t":154,"m":-0.00124},{"t":155,"m":-0.00127},{"t":156,"m":-0.0013},{"t":157,"m":-0.00133},{"t":158,"m":-0.00136},{"t":159,"m":-0.00139},{"t":160,"m":-0.00142},{"t":161,"m":-0.00145},{"t":162,"m":-0.00147},{"t":163,"m":-0.00149},{"t":164,"m":-0.0015},
{"t":165,"m":-0.00152},{"t":166,"m":-0.00154},{"t":167,"m":-0.00156},{"t":168,"m":-0.00158},{"t":169,"m":-0.0016},{"t":170,"m":-0.00162},{"t":171,"m":-0.00163},{"t":172,"m":-0.00164},{"t":173,"m":-0.00163},{"t":174,"m":-0.0016},
{"t":175,"m":-0.00155},{"t":176,"m":-0.00148},{"t":177,"m":-0.0014},{"t":178,"m":-0.0013},{"t":179,"m":-0.0012},{"t":180,"m":-0.0011},{"t":181,"m":-0.001},{"t":182,"m":-0.0009},{"t":183,"m":-0.0008},{"t":184,"m":-0.00072},
{"t":185,"m":-0.00066},{"t":186,"m":-0.00062},{"t":187,"m":-0.0006},{"t":188,"m":-0.00058},{"t":189,"m":-0.00057},{"t":190,"m":-0.00056},{"t":191,"m":-0.00055},{"t":192,"m":-0.00054},{"t":193,"m":-0.00052},{"t":194,"m":-0.0005},{"t":195,"m":-0.00048},{"t":196,"m":-0.00046},{"t":197,"m":-0.00044},{"t":198,"m":-0.00042},
{"t":199,"m":-0.0004},{"t":200,"m":-0.00038},{"t":201,"m":-0.00036},{"t":202,"m":-0.00034},{"t":203,"m":-0.00032},{"t":204,"m":-0.00031},{"t":205,"m":-0.0003},{"t":206,"m":-0.0003},{"t":207,"m":-0.00031},{"t":208,"m":-0.00033},{"t":209,"m":-0.00036},{"t":210,"m":-0.0004},{"t":211,"m":-0.00044},
{"t":212,"m":-0.00048},{"t":213,"m":-0.00052},{"t":214,"m":-0.00056},{"t":215,"m":-0.0006},{"t":216,"m":-0.00065},{"t":217,"m":-0.0007},{"t":218,"m":-0.00075},{"t":219,"m":-0.0008},{"t":220,"m":-0.00085},{"t":221,"m":-0.0009},{"t":222,"m":-0.00095},{"t":223,"m":-0.00098},{"t":224,"m":-0.001},
{"t":225,"m":-0.00095},{"t":226,"m":-0.00088},{"t":227,"m":-0.0008},{"t":228,"m":-0.00072},{"t":229,"m":-0.00065},{"t":230,"m":-0.00058},{"t":231,"m":-0.0005},
{"t":232,"m":-0.0004},{"t":233,"m":-0.0003},{"t":234,"m":-0.0002},{"t":235,"m":-0.00012},{"t":236,"m":-0.00007},{"t":237,"m":-0.00003},{"t":238,"m":0},
{"t":239,"m":0.00005},{"t":240,"m":0.00008},{"t":241,"m":0.0001},{"t":242,"m":0.00012},{"t":243,"m":0.00014},{"t":244,"m":0.00015},{"t":245,"m":0.00014},{"t":246,"m":0.00012},
{"t":247,"m":0.00005},{"t":248,"m":-0.0001},{"t":249,"m":-0.0003},{"t":250,"m":-0.00055},{"t":251,"m":-0.0008},
{"t":252,"m":-0.001},{"t":253,"m":-0.00115},{"t":254,"m":-0.00125},{"t":255,"m":-0.00135},{"t":256,"m":-0.00142},{"t":257,"m":-0.00148},{"t":258,"m":-0.0015},{"t":259,"m":-0.00148},{"t":260,"m":-0.00145},{"t":261,"m":-0.0014},
{"t":262,"m":-0.0013},{"t":263,"m":-0.0012},{"t":264,"m":-0.0011},{"t":265,"m":-0.001},{"t":266,"m":-0.00092},{"t":267,"m":-0.00085},{"t":268,"m":-0.000785}
],
"signal": [
{"t":-0.7,"v":-0.00007},{"t":9.7,"v":0.00029},{"t":21,"v":0.00101},{"t":29.7,"v":0.00151},{"t":35.3,"v":0.00123},{"t":43,"v":0.00029},{"t":48.7,"v":-0.00022},{"t":56.3,"v":-0.00036},{"t":65.3,"v":-0.00022},{"t":69.7,"v":-0.00007},{"t":76.3,"v":-0.00029},{"t":87.7,"v":-0.00065},{"t":98.7,"v":-0.00101},{"t":107.7,"v":-0.00137},{"t":115.3,"v":-0.00115},{"t":126.3,"v":-0.00079},{"t":138.7,"v":-0.00065},{"t":149.7,"v":-0.00094},{"t":161,"v":-0.00101},{"t":175.3,"v":-0.00159},{"t":188.7,"v":-0.00094},{"t":201,"v":-0.00065},{"t":214.3,"v":-0.00043},{"t":227.7,"v":-0.00101},{"t":238.7,"v":-0.00043},{"t":245.3,"v":0.00007},{"t":249.7,"v":0.00014},{"t":255.3,"v":-0.00043},{"t":261,"v":-0.0013},{"t":267.7,"v":-0.00098}
],
"stoch": [
{"s":"K","t":-0.7,"v":70},{"s":"K","t":1,"v":85},{"s":"K","t":4,"v":84},{"s":"K","t":7.5,"v":62},{"s":"K","t":9.5,"v":48},{"s":"K","t":12,"v":72},{"s":"K","t":15,"v":90},{"s":"K","t":17.5,"v":96},{"s":"K","t":19.5,"v":80},{"s":"K","t":22,"v":75},{"s":"K","t":24.5,"v":70},{"s":"K","t":28,"v":38},{"s":"K","t":31.5,"v":5},{"s":"K","t":35,"v":20},{"s":"K","t":38,"v":28},{"s":"K","t":40,"v":32},{"s":"K","t":43.5,"v":12},{"s":"K","t":47,"v":25},{"s":"K","t":50.5,"v":33},{"s":"K","t":53.5,"v":28},{"s":"K","t":57,"v":62},{"s":"K","t":59.5,"v":88},{"s":"K","t":62.5,"v":62},{"s":"K","t":66,"v":28},{"s":"K","t":70.5,"v":3},{"s":"K","t":74.5,"v":16},{"s":"K","t":79.5,"v":25},{"s":"K","t":83.5,"v":45},{"s":"K","t":86,"v":56},{"s":"K","t":89.5,"v":4},{"s":"K","t":93.5,"v":23},{"s":"K","t":97,"v":32},{"s":"K","t":101.5,"v":3},{"s":"K","t":106,"v":14},{"s":"K","t":108,"v":27},{"s":"K","t":112.5,"v":65},{"s":"K","t":116,"v":45},{"s":"K","t":119.5,"v":15},{"s":"K","t":122.5,"v":30},{"s":"K","t":127,"v":78},{"s":"K","t":130.5,"v":30},{"s":"K","t":134.5,"v":16},{"s":"K","t":138,"v":42},{"s":"K","t":140.5,"v":30},{"s":"K","t":144,"v":25},{"s":"K","t":147,"v":8},{"s":"K","t":151.5,"v":47},{"s":"K","t":155,"v":28},{"s":"K","t":157,"v":18},{"s":"K","t":162.5,"v":5},{"s":"K","t":167,"v":5},{"s":"K","t":170.5,"v":14},{"s":"K","t":174,"v":25},{"s":"K","t":178,"v":66},{"s":"K","t":181.5,"v":45},{"s":"K","t":184,"v":24},{"s":"K","t":188,"v":38},{"s":"K","t":192.5,"v":20},{"s":"K","t":197,"v":55},{"s":"K","t":200.5,"v":38},{"s":"K","t":204,"v":45},{"s":"K","t":208,"v":58},{"s":"K","t":212.5,"v":16},{"s":"K","t":217,"v":7},{"s":"K","t":221.5,"v":12},{"s":"K","t":226,"v":34},{"s":"K","t":230.5,"v":64},{"s":"K","t":233.5,"v":93},{"s":"K","t":237,"v":80},{"s":"K","t":240.5,"v":74},{"s":"K","t":243.5,"v":30},{"s":"K","t":247,"v":42},{"s":"K","t":251.5,"v":12},{"s":"K","t":255,"v":22},{"s":"K","t":258,"v":50},{"s":"K","t":261.5,"v":74},{"s":"K","t":264.5,"v":60},{"s":"K","t":268,"v":63.9},
{"s":"D","t":-0.7,"v":54},{"s":"D","t":2,"v":81},{"s":"D","t":5.3,"v":82},{"s":"D","t":8.7,"v":65},{"s":"D","t":11,"v":54},{"s":"D","t":13,"v":68},{"s":"D","t":16.3,"v":86},{"s":"D","t":19.3,"v":91},{"s":"D","t":21,"v":82},{"s":"D","t":24.3,"v":72},{"s":"D","t":26.3,"v":68},{"s":"D","t":29.7,"v":46},{"s":"D","t":33,"v":11},{"s":"D","t":36.3,"v":16},{"s":"D","t":39.7,"v":25},{"s":"D","t":42.7,"v":30},{"s":"D","t":45.3,"v":16},{"s":"D","t":48.7,"v":21},{"s":"D","t":52,"v":30},{"s":"D","t":55.3,"v":30},{"s":"D","t":58.7,"v":56},{"s":"D","t":61.3,"v":81},{"s":"D","t":64.3,"v":68},{"s":"D","t":67.7,"v":33},{"s":"D","t":72,"v":7},{"s":"D","t":76.3,"v":12},{"s":"D","t":81,"v":21},{"s":"D","t":85.3,"v":39},{"s":"D","t":87.7,"v":51},{"s":"D","t":91,"v":7},{"s":"D","t":95.3,"v":19},{"s":"D","t":98.7,"v":28},{"s":"D","t":103,"v":7},{"s":"D","t":107.7,"v":11},{"s":"D","t":109.7,"v":21},{"s":"D","t":114.3,"v":60},{"s":"D","t":117.7,"v":51},{"s":"D","t":121,"v":21},{"s":"D","t":124.3,"v":25},{"s":"D","t":128.7,"v":72},{"s":"D","t":132,"v":39},{"s":"D","t":136.3,"v":21},{"s":"D","t":139.7,"v":37},{"s":"D","t":142,"v":33},{"s":"D","t":145.3,"v":28},{"s":"D","t":148.7,"v":12},{"s":"D","t":153,"v":42},{"s":"D","t":156.3,"v":33},{"s":"D","t":158.7,"v":23},{"s":"D","t":164.3,"v":9},{"s":"D","t":168.7,"v":7},{"s":"D","t":172,"v":12},{"s":"D","t":175.3,"v":21},{"s":"D","t":179.7,"v":60},{"s":"D","t":183,"v":51},{"s":"D","t":185.3,"v":28},{"s":"D","t":189.7,"v":33},{"s":"D","t":194.3,"v":25},{"s":"D","t":198.7,"v":51},{"s":"D","t":202,"v":42},{"s":"D","t":205.3,"v":42},{"s":"D","t":209.7,"v":54},{"s":"D","t":214.3,"v":21},{"s":"D","t":218.7,"v":11},{"s":"D","t":223,"v":12},{"s":"D","t":227.7,"v":30},{"s":"D","t":232,"v":60},{"s":"D","t":235.3,"v":89},{"s":"D","t":238.7,"v":82},{"s":"D","t":242,"v":77},{"s":"D","t":245.3,"v":42},{"s":"D","t":248.7,"v":39},{"s":"D","t":253,"v":16},{"s":"D","t":256.3,"v":21},{"s":"D","t":259.7,"v":42},{"s":"D","t":263,"v":68},{"s":"D","t":266.3,"v":63},{"s":"D","t":268,"v":64.3}
],
"rsi": [
{"t":-0.7,"v":66},{"t":3,"v":65},{"t":10,"v":66},{"t":16,"v":72},{"t":19,"v":80},{"t":20,"v":76},{"t":22,"v":68},{"t":25,"v":68},{"t":28,"v":62},{"t":31,"v":57},{"t":35,"v":50},{"t":40,"v":52},{"t":50,"v":48},{"t":58,"v":55},{"t":60,"v":60},{"t":62,"v":56},{"t":70,"v":45},{"t":80,"v":43},{"t":88,"v":47},{"t":92,"v":35},{"t":100,"v":32},{"t":110,"v":40},{"t":120,"v":38},{"t":130,"v":45},{"t":135,"v":42},{"t":141,"v":30},{"t":150,"v":35},{"t":160,"v":28},{"t":166,"v":25},{"t":175,"v":35},{"t":180,"v":42},{"t":190,"v":38},{"t":200,"v":40},{"t":210,"v":42},{"t":218,"v":30},{"t":225,"v":32},{"t":232,"v":60},{"t":234,"v":63},{"t":238,"v":60},{"t":243,"v":58},{"t":248,"v":52},{"t":250,"v":25},{"t":256,"v":28},{"t":262,"v":40},{"t":268,"v":42.2}
]
},
"vconcat": [
{
"width": 813, "height": 346,
"layer": [
{"data": {"name": "sma"}, "transform": [{"filter": "datum.s == 'M'"}],
 "mark": {"type": "line", "color": "#ff4dff", "strokeWidth": 1.5, "interpolate": "monotone", "clip": true},
 "encoding": {
  "x": {"field": "t", "type": "quantitative", "scale": {"domain": [-0.667, 270.333], "nice": false, "zero": false},
        "axis": {"values": [19,45,71,97,123,149,175,201,227,253], "grid": true, "gridColor": "#1a1a1a", "gridDash": [2,2], "gridWidth": 1, "labels": false, "ticks": false, "domain": false, "title": null}},
  "y": {"field": "p", "type": "quantitative", "scale": {"domain": [0.68206, 0.706535], "nice": false, "zero": false},
        "axis": {"orient": "right", "values": [0.705,0.7031,0.7012,0.6993,0.6974,0.6955,0.6936,0.6917,0.68985,0.68795,0.68605,0.68415,0.68225], "grid": false, "domain": false, "labels": false, "ticks": true, "tickSize": 3, "title": null, "zindex": 1}}
 }},
{"data": {"name": "sma"}, "transform": [{"filter": "datum.s == 'R'"}],
 "mark": {"type": "line", "color": "#ff3030", "strokeWidth": 1.2, "interpolate": "monotone", "clip": true},
 "encoding": {"x": {"field": "t", "type": "quantitative"}, "y": {"field": "p", "type": "quantitative"}}},
{"data": {"name": "sma"}, "transform": [{"filter": "datum.s == 'N'"}],
 "mark": {"type": "line", "color": "#5fe85f", "strokeWidth": 1.2, "interpolate": "monotone", "clip": true},
 "encoding": {"x": {"field": "t", "type": "quantitative"}, "y": {"field": "p", "type": "quantitative"}}},
{"data": {"name": "sma"}, "transform": [{"filter": "datum.s == 'Y'"}],
 "mark": {"type": "line", "color": "#ffff00", "strokeWidth": 3, "interpolate": "monotone", "clip": true},
 "encoding": {"x": {"field": "t", "type": "quantitative"}, "y": {"field": "p", "type": "quantitative"}}},
{"data": {"name": "sma"}, "transform": [{"filter": "datum.s == 'G'"}],
 "mark": {"type": "line", "color": "#a8a8a8", "strokeWidth": 2.5, "interpolate": "monotone", "clip": true},
 "encoding": {"x": {"field": "t", "type": "quantitative"}, "y": {"field": "p", "type": "quantitative"}}},
{"data": {"name": "last"},
 "mark": {"type": "rule", "color": "#8d99ad", "strokeWidth": 1},
 "encoding": {"y": {"field": "p", "type": "quantitative"}}},
{"data": {"name": "candles"},
 "mark": {"type": "rule", "color": "#3fe03f", "strokeWidth": 1, "clip": true},
 "encoding": {"x": {"field": "t", "type": "quantitative"}, "y": {"field": "l", "type": "quantitative"}, "y2": {"field": "h"}}},
{"data": {"name": "candles"},
 "mark": {"type": "bar", "size": 2, "clip": true},
 "encoding": {"x": {"field": "t", "type": "quantitative"}, "y": {"field": "o", "type": "quantitative"}, "y2": {"field": "c"},
   "color": {"condition": {"test": "datum.c >= datum.o", "value": "#168016"}, "value": "#c4402c"}}},
{"data": {"name": "circles"},
 "mark": {"type": "point", "filled": false, "color": "#1ba1e2", "strokeWidth": 3, "opacity": 1, "size": 4},
 "encoding": {"x": {"field": "t", "type": "quantitative"}, "y": {"field": "p", "type": "quantitative"},
   "shape": {"field": "id", "type": "nominal", "legend": null, "scale": {"domain": ["a","b","c","d","e","f","g","h"], "range": [
     "M-9.5,0A9.5,20,0,1,0,9.5,0A9.5,20,0,1,0,-9.5,0Z",
     "M-13.5,0A13.5,18.5,0,1,0,13.5,0A13.5,18.5,0,1,0,-13.5,0Z",
     "M-10,0A10,11,0,1,0,10,0A10,11,0,1,0,-10,0Z",
     "M-10.5,0A10.5,14,0,1,0,10.5,0A10.5,14,0,1,0,-10.5,0Z",
     "M-8.5,0A8.5,18,0,1,0,8.5,0A8.5,18,0,1,0,-8.5,0Z",
     "M-12.5,0A12.5,16.5,0,1,0,12.5,0A12.5,16.5,0,1,0,-12.5,0Z",
     "M-10,0A10,16,0,1,0,10,0A10,16,0,1,0,-10,0Z",
     "M-11.5,0A11.5,19.5,0,1,0,11.5,0A11.5,19.5,0,1,0,-11.5,0Z"]}}}},
{"data": {"name": "note"},
 "mark": {"type": "text", "align": "left", "baseline": "alphabetic", "font": "Open Sans", "fontWeight": "bold", "fontSize": 22, "color": "#ec1c24"},
 "encoding": {"x": {"field": "t", "type": "quantitative"}, "y": {"field": "p", "type": "quantitative"}, "text": {"field": "txt"}}},
{"data": {"name": "plabels"},
 "mark": {"type": "text", "align": "left", "baseline": "middle", "font": "Liberation Sans", "fontSize": 7.2, "color": "#222", "clip": false},
 "encoding": {"x": {"datum": 271.6}, "y": {"field": "v", "type": "quantitative"}, "text": {"field": "s"}}},
{"data": {"name": "last"},
 "mark": {"type": "tick", "orient": "horizontal", "thickness": 7, "size": 38, "color": "#000000", "opacity": 1, "clip": false},
 "encoding": {"x": {"datum": 276.7}, "y": {"field": "p", "type": "quantitative"}}},
{"data": {"name": "last"},
 "mark": {"type": "text", "align": "left", "baseline": "middle", "font": "Liberation Sans", "fontSize": 7.2, "color": "#ffffff", "clip": false},
 "encoding": {"x": {"datum": 271.6}, "y": {"field": "p", "type": "quantitative"}, "text": {"field": "p", "type": "quantitative", "format": ".5f"}}}
]
},
{
"width": 813, "height": 52,
"layer": [
{"data": {"name": "macd"},
 "mark": {"type": "rule", "color": "#7ddc7d", "strokeWidth": 1},
 "encoding": {
  "x": {"field": "t", "type": "quantitative", "scale": {"domain": [-0.667, 270.333], "nice": false, "zero": false},
        "axis": {"values": [19,45,71,97,123,149,175,201,227,253], "grid": true, "gridColor": "#1a1a1a", "gridDash": [2,2], "gridWidth": 1, "labels": false, "ticks": false, "domain": false, "title": null}},
  "y": {"field": "m", "type": "quantitative", "scale": {"domain": [-0.001875, 0.001875], "nice": false, "zero": false},
        "axis": {"orient": "right", "values": [0.001442, 0, -0.001463], "grid": false, "domain": false, "labels": false, "ticks": true, "tickSize": 3, "title": null, "zindex": 1}},
  "y2": {"datum": 0}
 }},
{"data": {"name": "signal"},
 "mark": {"type": "line", "color": "#ff2020", "strokeWidth": 1.5, "interpolate": "monotone", "clip": true},
 "encoding": {"x": {"field": "t", "type": "quantitative"}, "y": {"field": "v", "type": "quantitative"}}},
{"data": {"name": "mlabels"},
 "mark": {"type": "text", "align": "left", "baseline": "middle", "font": "Liberation Sans", "fontSize": 7.2, "color": "#222", "clip": false},
 "encoding": {"x": {"datum": 271.3}, "y": {"field": "v", "type": "quantitative"}, "text": {"field": "s"}}},
{"data": {"values": [{"lbl": "MACD(12,26,9) -0.000785 -0.000980"}]},
 "mark": {"type": "text", "align": "left", "baseline": "middle", "font": "Liberation Sans", "fontSize": 7.5, "color": "#222"},
 "encoding": {"x": {"datum": 0.4}, "y": {"datum": 0.00137}, "text": {"field": "lbl"}}}
]
},
{
"width": 813, "height": 57,
"layer": [
{"data": {"values": [{"lvl": 80}, {"lvl": 20}]},
 "mark": {"type": "rule", "color": "#b8b8b8", "strokeWidth": 1, "strokeDash": [2,2]},
 "encoding": {
  "x": {"datum": -0.667, "type": "quantitative", "scale": {"domain": [-0.667, 270.333], "nice": false, "zero": false},
        "axis": {"values": [19,45,71,97,123,149,175,201,227,253], "grid": true, "gridColor": "#1a1a1a", "gridDash": [2,2], "gridWidth": 1, "labels": false, "ticks": false, "domain": false, "title": null}},
  "x2": {"datum": 270.333},
  "y": {"field": "lvl", "type": "quantitative", "scale": {"domain": [0, 100], "nice": false, "zero": false},
        "axis": {"orient": "right", "values": [100, 80, 20, 0], "grid": false, "domain": false, "labels": false, "ticks": true, "tickSize": 3, "title": null, "zindex": 1}}
 }},
{"data": {"name": "stoch"},
 "mark": {"type": "line", "strokeWidth": 1, "interpolate": "monotone", "clip": true},
 "encoding": {"x": {"field": "t", "type": "quantitative"}, "y": {"field": "v", "type": "quantitative"},
   "color": {"field": "s", "type": "nominal", "scale": {"domain": ["K", "D"], "range": ["#3ed83e", "#ff2b2b"]}, "legend": null}}},
{"data": {"values": [{"v": 80}, {"v": 20}]},
 "mark": {"type": "text", "align": "left", "baseline": "middle", "font": "Liberation Sans", "fontSize": 7.2, "color": "#222", "clip": false},
 "encoding": {"x": {"datum": 271.6}, "y": {"field": "v", "type": "quantitative"}, "text": {"field": "v", "type": "quantitative"}}},
{"data": {"values": [{"v": 100}]},
 "mark": {"type": "text", "align": "left", "baseline": "top", "font": "Liberation Sans", "fontSize": 7.2, "color": "#222", "clip": false},
 "encoding": {"x": {"datum": 271.6}, "y": {"field": "v", "type": "quantitative"}, "text": {"field": "v", "type": "quantitative"}}},
{"data": {"values": [{"v": 0}]},
 "mark": {"type": "text", "align": "left", "baseline": "bottom", "font": "Liberation Sans", "fontSize": 7.2, "color": "#222", "clip": false},
 "encoding": {"x": {"datum": 271.6}, "y": {"field": "v", "type": "quantitative"}, "text": {"field": "v", "type": "quantitative"}}},
{"data": {"values": [{"lbl": "Stoch(8,3,3) 63.8743 64.3186"}]},
 "mark": {"type": "text", "align": "left", "baseline": "middle", "font": "Liberation Sans", "fontSize": 7.5, "color": "#222"},
 "encoding": {"x": {"datum": 0.7}, "y": {"datum": 88}, "text": {"field": "lbl"}}}
]
},
{
"width": 813, "height": 57,
"layer": [
{"data": {"values": [{"lvl": 70}, {"lvl": 30}]},
 "mark": {"type": "rule", "color": "#b8b8b8", "strokeWidth": 1, "strokeDash": [2,2]},
 "encoding": {
  "x": {"datum": -0.667, "type": "quantitative", "scale": {"domain": [-0.667, 270.333], "nice": false, "zero": false},
        "axis": {"values": [19,45,71,97,123,149,175,201,227,253], "grid": true, "gridColor": "#1a1a1a", "gridDash": [2,2], "gridWidth": 1, "labels": false, "ticks": false, "domain": false, "title": null}},
  "x2": {"datum": 270.333},
  "y": {"field": "lvl", "type": "quantitative", "scale": {"domain": [0, 100], "nice": false, "zero": false},
        "axis": {"orient": "right", "values": [100, 70], "grid": false, "domain": false, "labels": false, "ticks": true, "tickSize": 3, "title": null, "zindex": 1}}
 }},
{"data": {"name": "rsi"},
 "mark": {"type": "line", "color": "#3ed83e", "strokeWidth": 1, "interpolate": "monotone", "clip": true},
 "encoding": {"x": {"field": "t", "type": "quantitative"}, "y": {"field": "v", "type": "quantitative"}}},
{"data": {"values": [{"v": 70}]},
 "mark": {"type": "text", "align": "left", "baseline": "middle", "font": "Liberation Sans", "fontSize": 7.2, "color": "#222", "clip": false},
 "encoding": {"x": {"datum": 271.6}, "y": {"field": "v", "type": "quantitative"}, "text": {"field": "v", "type": "quantitative"}}},
{"data": {"values": [{"v": 100}]},
 "mark": {"type": "text", "align": "left", "baseline": "top", "font": "Liberation Sans", "fontSize": 7.2, "color": "#222", "clip": false},
 "encoding": {"x": {"datum": 271.6}, "y": {"field": "v", "type": "quantitative"}, "text": {"field": "v", "type": "quantitative"}}},
{"data": {"values": [{"lbl": "RSI(13) 42.2145"}]},
 "mark": {"type": "text", "align": "left", "baseline": "middle", "font": "Liberation Sans", "fontSize": 7.5, "color": "#222"},
 "encoding": {"x": {"datum": 0.1}, "y": {"datum": 88}, "text": {"field": "lbl"}}}
]
}
]
}
